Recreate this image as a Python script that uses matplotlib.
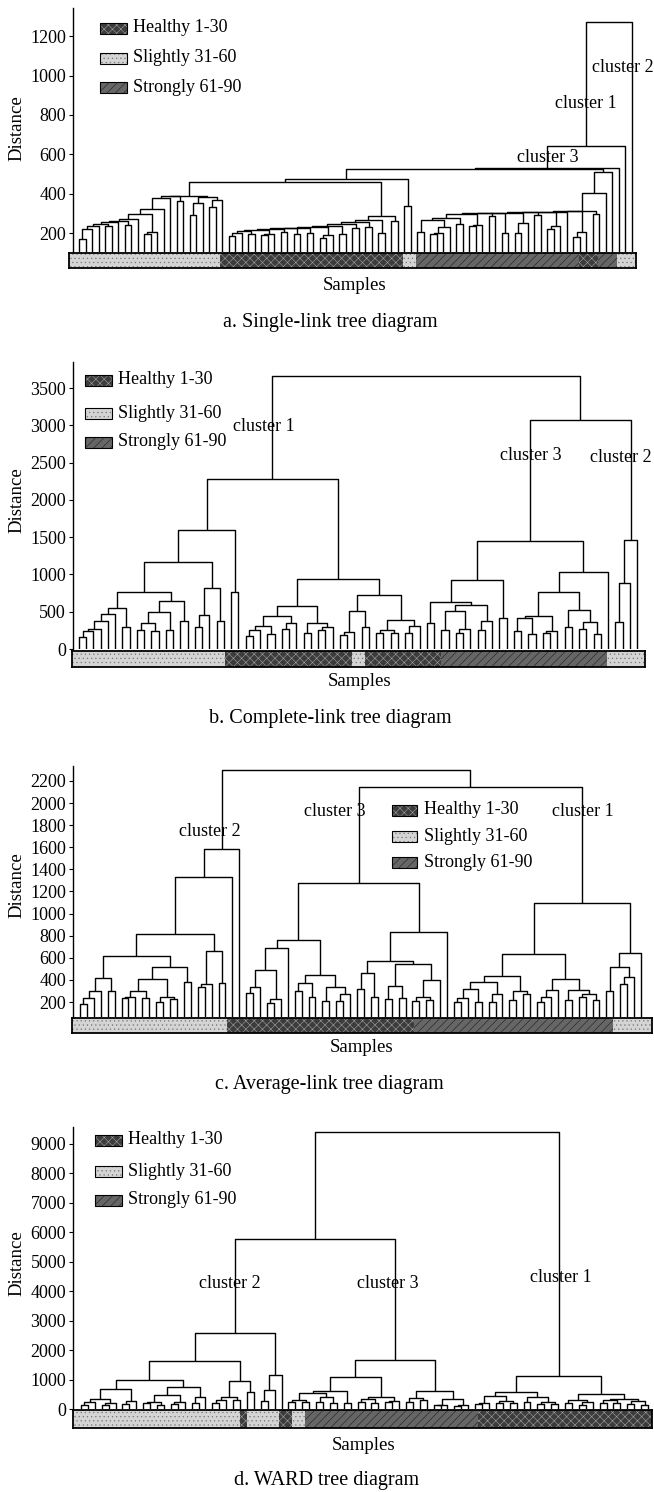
import matplotlib
matplotlib.use("Agg")
import matplotlib.pyplot as plt
from matplotlib.patches import Rectangle
from matplotlib.collections import LineCollection

plt.rcParams["font.family"] = ["Liberation Serif", "DejaVu Serif"]
plt.rcParams["hatch.linewidth"] = 0.4

W, H = 654, 1492
o = 0  # a single sample (leaf)


def chain(node, *steps):
    # single-link style staircase: each step joins one more branch on the right
    for h, right in steps:
        node = [h, node, right]
    return node


# ---- a. single link -------------------------------------------------------
a_left = [392,
          chain([171, o, o], (222, o), (239, o), (248, [240, o, o]), (256, o),
                (262, [243, o, o]), (272, o), (298, [208, [195, o, o], o]),
                (325, o), (378, o), (390, [365, o, o])),
          [385, [352, [292, o, o], o], [368, [335, o, o], o]]]
a_mid = chain([200, [185, o, o], o], (213, [195, o, o]), (218, [198, [192, o, o], o]),
              (222, [205, o, o]), (226, [196, o, o]), (230, [200, o, o]),
              (233, [190, [178, o, o], o]), (238, [195, o, o]), (250, [228, o, o]),
              (258, [232, o, o]), (268, [200, o, o]), (289, [262, o, o]))
a_right = chain([279, [267, [208, o, o], [232, [200, [195, o, o], o], o]], [250, o, o]],
                (300, [245, [240, o, o], o]), (303, [290, o, o]), (305, [200, o, o]),
                (306, [255, [200, o, o], o]), (308, [295, o, o]),
                (309, [238, [225, o, o], o]), (310, o), (312, [208, [180, o, o], o]),
                (314, [300, o, o]), (405, o), (511, o))
a_tree = chain([526, [476, [460, a_left, a_mid], [340, o, o]], a_right],
               (530, o), (644, o), (1272, o))

# ---- b. complete link -----------------------------------------------------
b_l1 = chain([165, o, o], (245, o), (263, o), (375, o), (464, o), (544, [300, o, o]))
b_l2 = [642, [500, [343, [254, o, o], [245, o, o]], [255, o, o]], [375, o, o]]
b_lr = [816, [460, [300, o, o], o], [370, o, o]]
b_left = [1596, [1168, [767, b_l1, b_l2], b_lr], [760, o, o]]
b_rl = [571, [446, [312, [250, [180, o, o], o], [200, o, o]], [345, [265, o, o], o]],
        [343, [210, o, o], [290, [250, o, o], o]]]
b_rr = [722, [513, [230, [190, o, o], o], [300, o, o]],
        [388, [260, [210, o, o], [215, o, o]], [305, [210, o, o], o]]]
b_c1 = [2274, b_left, [936, b_rl, b_rr]]
b_c3l = [927, [624, [350, o, o], [593, [513, [250, o, o], [270, [210, o, o], o]],
                                   [370, [250, o, o], o]]], [420, o, o]]
b_c3r = [1034, [758, [446, [410, [240, o, o], [200, o, o]], [240, [220, o, o], o]],
                [522, [300, o, o], [360, [270, o, o], [200, o, o]]]], o]
b_c2 = [1462, [883, [360, o, o], o], o]
b_tree = [3665, b_c1, [3068, [1449, b_c3l, b_c3r], b_c2]]

# ---- c. average link ------------------------------------------------------
c_c2 = [1581, [1334, [817, [618, [417, [302, [240, [180, o, o], o], o], [300, o, o]],
                            [516, [408, [300, [250, [240, o, o], o], [240, o, o]],
                                   [245, [200, o, o], [225, o, o]]], [380, o, o]]],
                      [663, [360, [340, o, o], o], [370, o, o]]], o], o]
c_c3 = [1274, [763, [687, [486, [340, [285, o, o], o], [225, [195, o, o], o]], o],
               [447, [375, [300, o, o], [250, o, o]], [340, [210, o, o], [270, [210, o, o], o]]]],
        [832, [567, [460, [320, o, o], [250, o, o]],
               [545, [345, [230, o, o], [240, o, o]], [400, [250, [210, o, o], [220, o, o]], o]]], o]]
c_c1 = [1093, [633, [432, [380, [320, [240, [200, o, o], o], [200, o, o]], [270, [200, o, o], o]],
                     [300, [220, o, o], [270, o, o]]],
               [410, [310, [250, [205, o, o], o], o], [305, [220, o, o], [270, [250, o, o], [220, o, o]]]]],
        [642, [516, [300, o, o], [430, [365, o, o], o]], o]]
c_tree = [2297, c_c2, [2146, c_c3, c_c1]]

# ---- d. WARD ---------------------------------------------------------------
d_c2 = [2580, [1636, [977, [682, [340, [250, [150, o, o], o], [200, [120, o, o], o]], [270, [180, o, o], o]],
                           [738, [490, [230, [200, o, o], [150, o, o]], [250, [170, o, o], o]], [410, [220, o, o], o]]],
                     [955, [400, [320, [200, o, o], o], [290, o, o]], [560, o, o]]],
        [1159, [647, [260, o, o], o], o]]
d_c3 = [1659, [1091, [625, [534, [300, [250, o, o], [230, o, o]], [410, [250, o, o], [200, o, o]]], [200, o, o]],
               [410, [350, [230, o, o], [210, o, o]], [280, [230, o, o], o]]],
        [613, [380, [250, o, o], [300, o, o]], [330, [150, [130, o, o], o], [140, [100, o, o], o]]]]
d_c1 = [1102, [568, [450, [200, [160, o, o], o], [280, [200, o, o], [210, o, o]]],
               [420, [230, o, o], [250, [180, o, o], [170, o, o]]]],
        [511, [300, [220, o, o], [250, [150, o, o], o]],
              [350, [300, [210, o, o], [200, o, o]], [260, [180, o, o], [150, o, o]]]]]
d_tree = [9395, [5760, d_c2, d_c3], d_c1]

# sample group strip under each tree (group code, number of samples)
a_strip = [("S", 24), ("H", 29), ("S", 2), ("M", 26), ("H", 3), ("M", 3), ("S", 3)]
b_strip = [("S", 24), ("H", 20), ("S", 2), ("H", 12), ("M", 26), ("S", 6)]
c_strip = [("S", 24), ("H", 29), ("M", 31), ("S", 6)]
d_strip = [("S", 26), ("H", 1), ("S", 5), ("H", 2), ("S", 2), ("M", 27), ("H", 27)]

legend_labels = [("H", "Healthy 1-30"), ("S", "Slightly 31-60"), ("M", "Strongly 61-90")]
group_style = {"H": ("#3c3c3c", "xxxx", "#a0a0a0"),
               "S": ("#d4d4d4", "....", "#777777"),
               "M": ("#666666", "////", "#1e1e1e")}

panels = [
    dict(tree=a_tree, box=(73, 636, 8, 252), leaves=(79, 632), ylim=(106, 1342),
         yticks=range(200, 1201, 200), strip=a_strip, strip_box=(69, 636, 253, 268),
         legend=(100, 127, 133, [28, 58, 87]), dist_y=128,
         clusters=[("cluster 2", 592, 67), ("cluster 1", 555, 103), ("cluster 3", 517, 157)],
         samples=(355, 285), caption=("a. Single-link tree diagram", 330, 322)),
    dict(tree=b_tree, box=(73, 645, 362, 649), leaves=(79, 637), ylim=(0, 3849),
         yticks=range(0, 3501, 500), strip=b_strip, strip_box=(72, 645, 651, 667),
         legend=(85, 112, 118, [380, 413, 442]), dist_y=500,
         clusters=[("cluster 1", 233, 426), ("cluster 3", 500, 455), ("cluster 2", 590, 457)],
         samples=(360, 682), caption=("b. Complete-link tree diagram", 330, 718)),
    dict(tree=c_tree, box=(73, 652, 766, 1017), leaves=(80, 641), ylim=(65, 2335),
         yticks=range(200, 2201, 200), strip=c_strip, strip_box=(72, 652, 1018, 1033),
         legend=(392, 417, 424, [810, 836, 862]), dist_y=885,
         clusters=[("cluster 2", 179, 831), ("cluster 3", 304, 812), ("cluster 1", 552, 812)],
         samples=(362, 1048), caption=("c. Average-link tree diagram", 329, 1085)),
    dict(tree=d_tree, box=(73, 652, 1127, 1409), leaves=(81, 648), ylim=(0, 9560),
         yticks=range(0, 9001, 1000), strip=d_strip, strip_box=(73, 652, 1410, 1428),
         legend=(95, 122, 128, [1140, 1171, 1200]), dist_y=1263,
         clusters=[("cluster 2", 199, 1283), ("cluster 3", 357, 1283), ("cluster 1", 530, 1277)],
         samples=(364, 1445), caption=("d. WARD tree diagram", 327, 1480)),
]


def fig_rect(x0, x1, ytop, ybot):
    return [x0 / W, 1 - ybot / H, (x1 - x0) / W, (ybot - ytop) / H]


def fx(x):
    return x / W


def fy(y):
    return 1 - y / H


def walk(node, base, leaves, segs):
    if not isinstance(node, list):
        x = len(leaves)
        leaves.append(x)
        return x, base
    h, left, right = node
    xl, yl = walk(left, base, leaves, segs)
    xr, yr = walk(right, base, leaves, segs)
    segs.append([(xl, yl), (xl, h), (xr, h), (xr, yr)])
    return (xl + xr) / 2, h


fig = plt.figure(figsize=(W / 100, H / 100), dpi=100)

for p in panels:
    x0, x1, ytop, ybot = p["box"]
    ax = fig.add_axes(fig_rect(*p["box"]))
    leaves, segs = [], []
    walk(p["tree"], p["ylim"][0], leaves, segs)
    n = len(leaves)
    first, last = p["leaves"]
    unit = (last - first) / (n - 1)
    ax.set_xlim(-(first - x0) / unit, (n - 1) + (x1 - last) / unit)
    ax.set_ylim(*p["ylim"])
    ax.add_collection(LineCollection(segs, colors="black", linewidths=1.0))
    for side in ["top", "right", "bottom"]:
        ax.spines[side].set_visible(False)
    ax.spines["left"].set_linewidth(1.0)
    ax.set_xticks([])
    ax.set_yticks(list(p["yticks"]))
    ax.tick_params(axis="y", direction="out", length=3, width=0.8, labelsize=13, pad=2)
    ax.patch.set_alpha(0)

    # sample group strip
    sax = fig.add_axes(fig_rect(*p["strip_box"]))
    total = sum(c for _, c in p["strip"])
    start = 0
    for g, c in p["strip"]:
        face, hatch, hcol = group_style[g]
        sax.add_patch(Rectangle((start, 0), c, 1, facecolor=face, hatch=hatch,
                                edgecolor=hcol, linewidth=0))
        start += c
    sax.set_xlim(0, total)
    sax.set_ylim(0, 1)
    sax.set_xticks([])
    sax.set_yticks([])
    for s in sax.spines.values():
        s.set_linewidth(1.3)

    # legend
    bx0, bx1, tx, rows = p["legend"]
    for (g, label), ry in zip(legend_labels, rows):
        face, hatch, hcol = group_style[g]
        fig.add_artist(Rectangle((fx(bx0), fy(ry + 5.5)), (bx1 - bx0) / W, 11 / H,
                                 transform=fig.transFigure, facecolor=face, hatch=hatch,
                                 edgecolor=hcol, linewidth=0))
        fig.add_artist(Rectangle((fx(bx0), fy(ry + 5.5)), (bx1 - bx0) / W, 11 / H,
                                 transform=fig.transFigure, facecolor="none",
                                 edgecolor="black", linewidth=0.8))
        fig.text(fx(tx), fy(ry), label, fontsize=13, va="center", ha="left")

    for label, lx, ly in p["clusters"]:
        fig.text(fx(lx), fy(ly), label, fontsize=13, va="center", ha="left")

    fig.text(fx(17), fy(p["dist_y"]), "Distance", fontsize=13.5, rotation=90,
             va="center", ha="center")
    fig.text(fx(p["samples"][0]), fy(p["samples"][1]), "Samples", fontsize=13.5,
             va="center", ha="center")
    cap, cx, cy = p["caption"]
    fig.text(fx(cx), fy(cy), cap, fontsize=14.5, va="center", ha="center")

fig.savefig("out.png", dpi=100)
